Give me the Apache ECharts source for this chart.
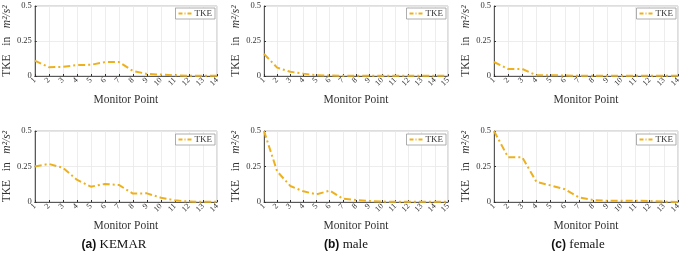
<!DOCTYPE html>
<html>
<head>
<meta charset="utf-8">
<script src="https://cdn.jsdelivr.net/npm/echarts@6/dist/echarts.min.js"></script>
<style>
  html, body { margin: 0; padding: 0; background: #fff; }
  #chart { width: 685px; height: 253px; }
</style>
</head>
<body>
<div id="chart"></div>
<script>
// monitor points
const points14 = [1, 2, 3, 4, 5, 6, 7, 8, 9, 10, 11, 12, 13, 14];
const points15 = [1, 2, 3, 4, 5, 6, 7, 8, 9, 10, 11, 12, 13, 14, 15];

// TKE values (m^2/s^2), top row
const kemarTop = [0.11, 0.063, 0.065, 0.078, 0.08, 0.099, 0.1, 0.036, 0.015, 0.01, 0.005, 0.002, 0.001, 0.001];
const maleTop = [0.158, 0.06, 0.03, 0.017, 0.005, 0.003, 0.002, 0.002, 0.001, 0.001, 0.001, 0.001, 0.002, 0.001, 0.001];
const femaleTop = [0.1, 0.05, 0.05, 0.005, 0.005, 0.004, 0.001, 0.001, 0.001, 0.001, 0.001, 0.001, 0.001, 0.001];

// bottom row
const kemarBottom = [0.25, 0.268, 0.242, 0.157, 0.108, 0.127, 0.12, 0.059, 0.061, 0.03, 0.012, 0.003, 0.001, 0.001];
const maleBottom = [0.5, 0.216, 0.113, 0.075, 0.054, 0.08, 0.023, 0.014, 0.007, 0.003, 0.001, 0.001, 0.001, 0.001, 0.001];
const femaleBottom = [0.5, 0.315, 0.315, 0.141, 0.117, 0.09, 0.033, 0.014, 0.009, 0.009, 0.009, 0.007, 0.003, 0.0];

const captions = [['(a)', 'KEMAR'], ['(b)', 'male'], ['(c)', 'female']];

const lineColor = '#EDB120';
const serif = 'Liberation Serif';

// panel layout
const cols = [{ left: 31, width: 186 }, { left: 264, width: 184 }, { left: 494, width: 184 }];
const rows = [{ top: 6, height: 70 }, { top: 131, height: 71 }];
const captionX = [114, 346, 578];

const panels = [
  { x: points14, y: kemarTop }, { x: points15, y: maleTop }, { x: points14, y: femaleTop },
  { x: points14, y: kemarBottom }, { x: points15, y: maleBottom }, { x: points14, y: femaleBottom }
];

const grid = [], xAxis = [], yAxis = [], series = [], legend = [];

panels.forEach((p, i) => {
  const c = cols[i % 3], r = rows[Math.floor(i / 3)];
  grid.push({
    left: c.left, top: r.top, width: c.width, height: r.height,
    show: true, borderColor: '#bdbdbd', borderWidth: 1
  });
  xAxis.push({
    type: 'category', gridIndex: i, data: p.x, boundaryGap: false,
    name: 'Monitor Point', nameLocation: 'middle', nameGap: 18,
    nameTextStyle: { fontFamily: serif, fontSize: 11.5, color: '#333' },
    axisLine: { lineStyle: { color: '#333', width: 0.8 } },
    axisTick: { inside: true, length: 2, interval: 0, lineStyle: { color: '#333' } },
    axisLabel: { rotate: 45, interval: 0, fontFamily: serif, fontSize: 8, color: '#333', margin: 3 },
    splitLine: { show: true, interval: 0, lineStyle: { color: '#e8e8e8', width: 0.8 } }
  });
  yAxis.push({
    type: 'value', gridIndex: i, min: 0, max: 0.5, interval: 0.25,
    name: '{n|TKE   in   }{i|m²/s²}', nameLocation: 'middle', nameGap: 19,
    nameTextStyle: {
      rich: {
        n: { fontFamily: serif, fontSize: 11.5, color: '#333' },
        i: { fontFamily: serif, fontSize: 11.5, fontStyle: 'italic', color: '#333' }
      }
    },
    axisLine: { show: true, lineStyle: { color: '#333', width: 0.8 } },
    axisTick: { show: true, inside: true, length: 2, lineStyle: { color: '#333' } },
    axisLabel: { fontFamily: serif, fontSize: 8.5, color: '#333', margin: 3 },
    splitLine: { show: true, lineStyle: { color: '#e8e8e8', width: 0.8 } }
  });
  series.push({
    name: 'TKE', type: 'line', xAxisIndex: i, yAxisIndex: i, data: p.y,
    showSymbol: false, symbol: 'none',
    lineStyle: { color: lineColor, width: 2, type: [7, 3, 2, 3] },
    itemStyle: { color: lineColor }
  });
  legend.push({
    data: ['TKE'],
    right: 685 - (c.left + c.width) + 2, top: r.top + (i < 3 ? 2 : 3),
    orient: 'vertical', itemWidth: 14, itemHeight: 8, itemGap: 0,
    padding: [1, 3, 1, 2], borderColor: '#999', borderWidth: 0.8, backgroundColor: '#fff',
    itemStyle: { opacity: 0 },
    lineStyle: { type: [4, 2, 1, 2], width: 2 },
    textStyle: { fontFamily: serif, fontSize: 9, color: '#333', padding: [0, 0, 0, -3] },
    selectedMode: false
  });
});

const chart = echarts.init(document.getElementById('chart'));
chart.setOption({
  animation: false,
  grid, xAxis, yAxis, series, legend,
  graphic: captions.map((cap, k) => ({
    type: 'text', x: captionX[k], y: 245,
    style: {
      text: '{b|' + cap[0] + '} {t|' + cap[1] + '}',
      rich: {
        b: { fontFamily: 'Liberation Sans', fontWeight: 'bold', fontSize: 12, fill: '#111' },
        t: { fontFamily: serif, fontSize: 13, fill: '#111' }
      },
      align: 'center', verticalAlign: 'middle'
    }
  }))
});
</script>
</body>
</html>
